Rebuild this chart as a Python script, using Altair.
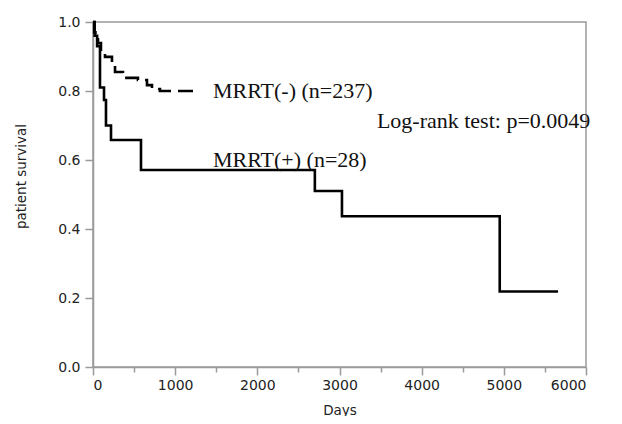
import altair as alt
import pandas as pd

# MRRT(+) Kaplan-Meier steps (days, survival)
pos_days = [0, 20, 50, 85, 134, 158, 219, 584, 2700, 3030, 4950, 5660]
pos_surv = [1.0, 0.96, 0.93, 0.81, 0.774, 0.70, 0.658, 0.571, 0.51, 0.437, 0.219, 0.219]

# MRRT(-) Kaplan-Meier steps
neg_days = [0, 15, 30, 61, 97, 146, 231, 268, 365, 547, 657, 718, 815, 1300]
neg_surv = [1.0, 0.97, 0.95, 0.939, 0.91, 0.899, 0.881, 0.855, 0.838, 0.832, 0.817, 0.806, 0.80, 0.80]

label_text = ["MRRT(-) (n=237)", "MRRT(+) (n=28)", "Log-rank test: p=0.0049"]
label_x = [1460, 1460, 3455]
label_y = [0.780, 0.580, 0.693]

x_ticks = [0, 500, 1000, 1500, 2000, 2500, 3000, 3500, 4000, 4500, 5000, 5500, 6000]
y_ticks = [0.0, 0.1, 0.2, 0.3, 0.4, 0.5, 0.6, 0.7, 0.8, 0.9, 1.0]

pos_df = pd.DataFrame({"days": pos_days, "surv": pos_surv})
neg_df = pd.DataFrame({"days": neg_days, "surv": neg_surv})
lab_df = pd.DataFrame({"text": label_text, "days": label_x, "surv": label_y})

GRAY = "#9a9a9a"
xscale = alt.Scale(domain=[0, 6000], nice=False, zero=False)
yscale = alt.Scale(domain=[0, 1], nice=False)

x_major_test = "datum.value % 1000 == 0"
y_major_test = "round(datum.value * 10) % 2 == 0"

main_x = alt.X("days:Q", scale=xscale, title="Days",
               axis=alt.Axis(values=x_ticks,
                             labelExpr=f"({x_major_test}) ? format(datum.value, 'd') : ''",
                             tickSize={"condition": {"test": x_major_test, "value": 8}, "value": 5},
                             titlePadding=11))
main_y = alt.Y("surv:Q", scale=yscale, title="patient survival",
               axis=alt.Axis(values=y_ticks,
                             labelExpr=f"({y_major_test}) ? format(datum.value, '.1f') : ''",
                             tickSize={"condition": {"test": y_major_test, "value": 8}, "value": 5},
                             labelPadding=5, titleX=-72, titleY=154, titleBaseline="middle",
                             titleAlign="center", titleAngle=270))

pos_line = alt.Chart(pos_df).mark_line(interpolate="step-after", color="black", strokeWidth=2.6).encode(
    x=main_x, y=main_y)

neg_line = alt.Chart(neg_df).mark_line(interpolate="step-after", color="black", strokeWidth=2.6,
                                       strokeDash=[15, 7]).encode(
    x=alt.X("days:Q", scale=xscale), y=alt.Y("surv:Q", scale=yscale))

labels = alt.Chart(lab_df).mark_text(font="Liberation Serif", fontSize=22, align="left",
                                     baseline="alphabetic", color="#111").encode(
    x=alt.X("days:Q", scale=xscale), y=alt.Y("surv:Q", scale=yscale), text="text:N")

chart = alt.layer(pos_line, neg_line, labels).properties(
    width=493, height=345, background="white",
    autosize=alt.AutoSizeParams(type="none"),
    padding={"left": 85, "top": 14, "right": 28, "bottom": 49},
).configure_view(stroke=GRAY, strokeWidth=1.5).configure_axis(
    grid=False, domainColor=GRAY, tickColor=GRAY, domainWidth=1.5, tickWidth=1.5,
    labelFont="DejaVu Sans", labelFontSize=14, labelColor="#222", labelPadding=3,
    titleFont="DejaVu Sans", titleFontSize=13.5, titleFontWeight="normal", titleColor="#222",
)

chart.save("out.html", embed_options={"renderer": "svg", "actions": False})
